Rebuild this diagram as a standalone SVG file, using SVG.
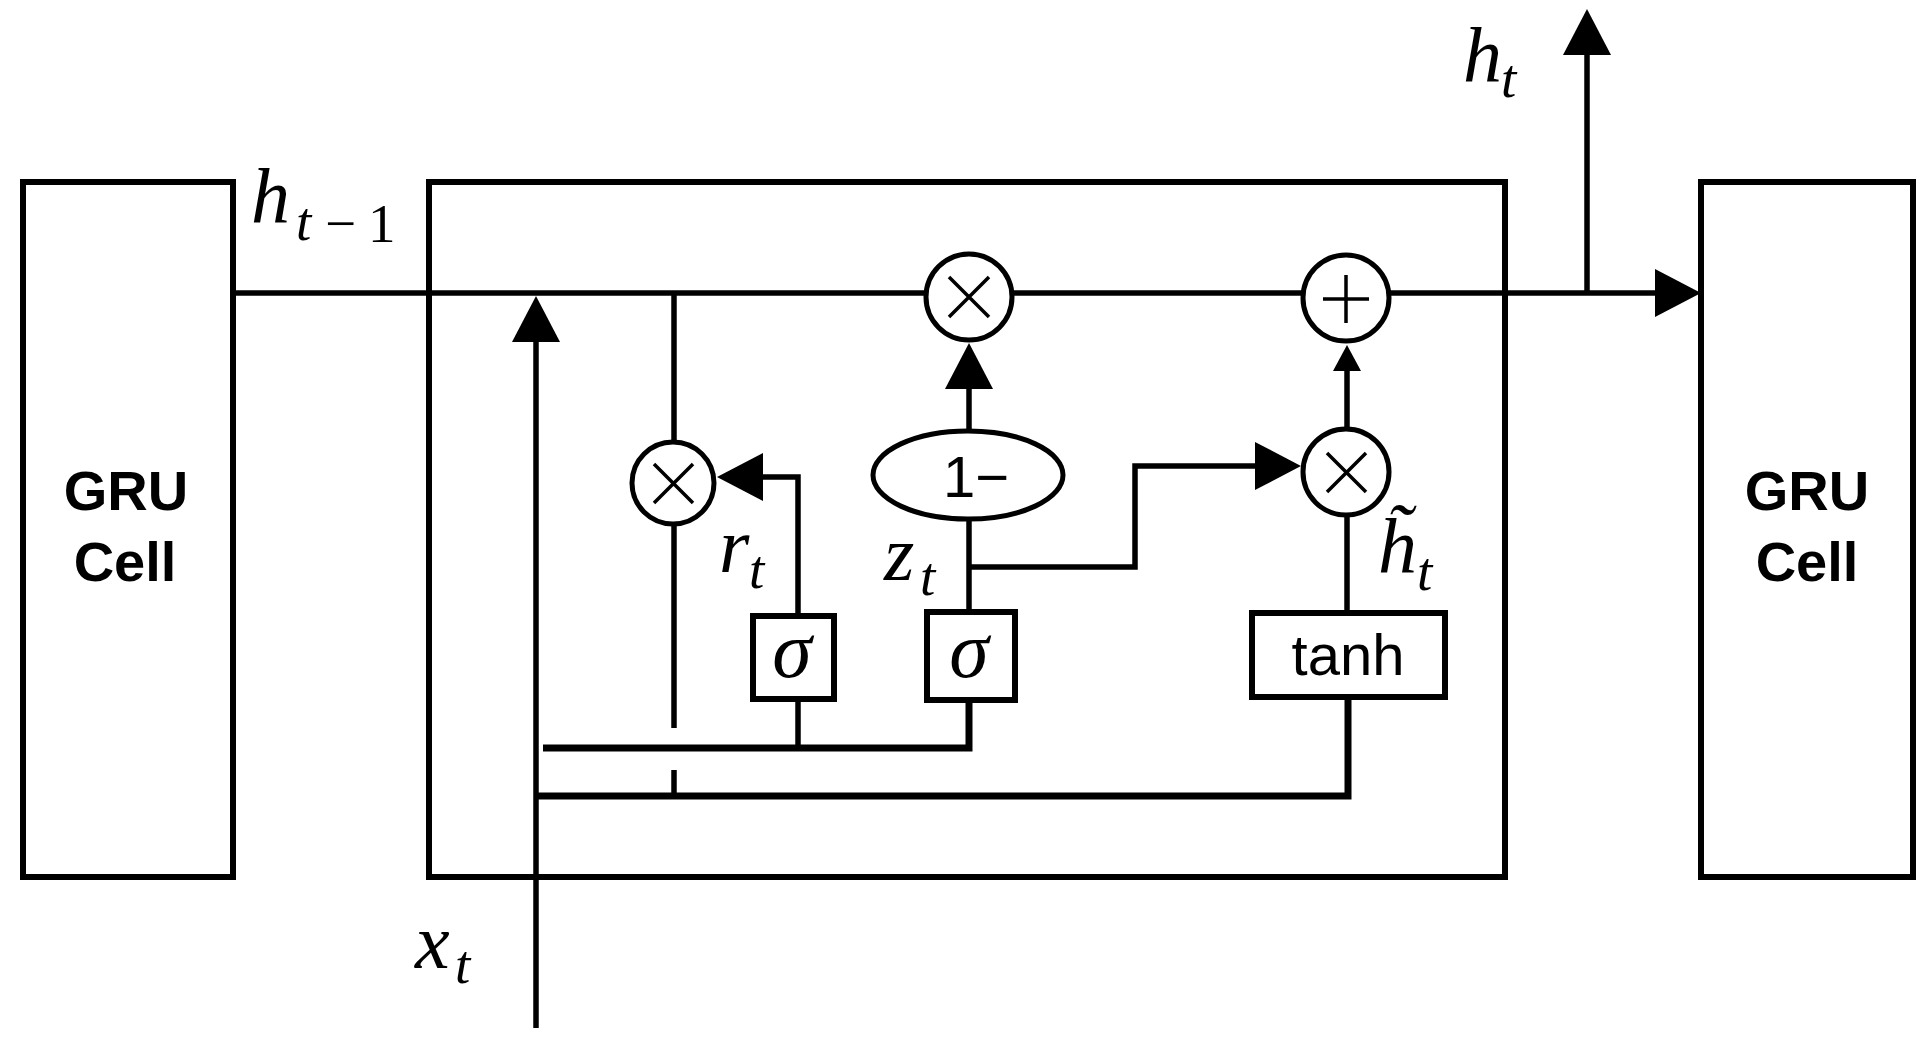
<svg xmlns="http://www.w3.org/2000/svg" width="1932" height="1041" viewBox="0 0 1932 1041">
<style>
.box{fill:#fff;stroke:#000;stroke-width:6}
.frame{fill:none;stroke:#000;stroke-width:6}
.op{fill:#fff;stroke:#000;stroke-width:5}
.sym{stroke:#000;stroke-width:3.5;fill:none}
.ln{fill:none;stroke:#000;stroke-width:5.5}
.bus{fill:none;stroke:#000;stroke-width:7}
.cell{font-family:"Liberation Sans",Arial,sans-serif;font-weight:bold;font-size:56px;text-anchor:middle}
.sans{font-family:"Liberation Sans",Arial,sans-serif;font-size:58px}
.m{font-family:"Liberation Serif","Times New Roman",serif;font-style:italic;font-size:78px}
.sg{font-family:"Liberation Serif","Times New Roman",serif;font-style:italic;font-size:80px}
.s{font-family:"Liberation Serif","Times New Roman",serif;font-style:italic;font-size:55px}
.su{font-family:"Liberation Serif","Times New Roman",serif;font-size:55px}
</style>
<defs>
<marker id="ah" markerUnits="userSpaceOnUse" viewBox="0 0 46 48" refX="0" refY="24" markerWidth="46" markerHeight="48" orient="auto">
<path d="M0,0 L46,24 L0,48 Z" fill="#000"/>
</marker>
<marker id="ahs" markerUnits="userSpaceOnUse" viewBox="0 0 26 28" refX="0" refY="14" markerWidth="26" markerHeight="28" orient="auto">
<path d="M0,0 L26,14 L0,28 Z" fill="#000"/>
</marker>
</defs>
<rect width="1932" height="1041" fill="#fff"/>

<g id="gru-left">
<rect class="box" x="23" y="182" width="210" height="695"/>
<text class="cell" x="126" y="510">GRU</text>
<text class="cell" x="125" y="581">Cell</text>
</g>
<g id="gru-right">
<rect class="box" x="1701" y="182" width="212" height="695"/>
<text class="cell" x="1807" y="510">GRU</text>
<text class="cell" x="1807" y="581">Cell</text>
</g>
<g id="cell-frame">
<rect class="frame" x="429" y="182" width="1076" height="695"/>
</g>

<g id="connectors">
<path class="ln" d="M233,293 H1655" marker-end="url(#ah)"/>
<path class="ln" d="M1587,293 V55" marker-end="url(#ah)"/>
<path class="ln" d="M536,1028 V342" marker-end="url(#ah)"/>
<path class="ln" d="M674,293 V442"/>
<path class="ln" d="M674,524 V728"/>
<path class="ln" d="M674,770 V796"/>
<path class="ln" d="M798,616 V477 H763" marker-end="url(#ah)"/>
<path class="ln" d="M798,699 V748"/>
<path class="bus" d="M543,748 H969 V700"/>
<path class="bus" d="M536,796 H1348 V697"/>
<path class="ln" d="M969,612 V519"/>
<path class="ln" d="M969,431 V389" marker-end="url(#ah)"/>
<path class="ln" d="M969,567 H1135 V466 H1255" marker-end="url(#ah)"/>
<path class="ln" d="M1347,429 V371" marker-end="url(#ahs)"/>
<path class="ln" d="M1347,515 V613"/>
</g>

<g id="mul-reset">
<circle class="op" cx="673" cy="483" r="41"/>
<path class="sym" d="M654,464 L693,503 M693,464 L654,503"/>
</g>
<g id="mul-forget">
<circle class="op" cx="969" cy="297" r="43"/>
<path class="sym" d="M949,277 L989,317 M989,277 L949,317"/>
</g>
<g id="add">
<circle class="op" cx="1346" cy="298" r="43"/>
<path class="sym" d="M1323,299 H1369 M1346,275 V323"/>
</g>
<g id="mul-update">
<circle class="op" cx="1346" cy="472" r="43"/>
<path class="sym" d="M1327,453 L1366,492 M1366,453 L1327,492"/>
</g>
<g id="one-minus">
<ellipse class="op" cx="968" cy="475" rx="95" ry="44"/>
<text class="sans" x="976" y="497" text-anchor="middle">1−</text>
</g>
<g id="sigma-r">
<rect class="box" x="753" y="616" width="81" height="83"/>
<text class="sg" x="792" y="677" text-anchor="middle">σ</text>
</g>
<g id="sigma-z">
<rect class="box" x="927" y="612" width="88" height="88"/>
<text class="sg" x="969" y="677" text-anchor="middle">σ</text>
</g>
<g id="tanh">
<rect class="box" x="1252" y="613" width="193" height="84"/>
<text class="sans" x="1348" y="675" text-anchor="middle">tanh</text>
</g>

<g id="labels">
<text class="m" x="251" y="223">h</text>
<text class="s" x="296" y="240">t</text>
<text class="su" x="325" y="242" font-size="62">−</text>
<text class="su" x="368" y="242">1</text>

<text class="m" x="1463" y="82">h</text>
<text class="s" x="1501" y="97">t</text>

<text class="m" x="415" y="968">x</text>
<text class="s" x="455" y="983">t</text>

<text class="m" x="719" y="572">r</text>
<text class="s" x="749" y="588">t</text>

<text class="m" x="884" y="580">z</text>
<text class="s" x="920" y="595">t</text>

<text class="m" x="1378" y="573">h&#x303;</text>
<text class="s" x="1417" y="590">t</text>
</g>
</svg>
